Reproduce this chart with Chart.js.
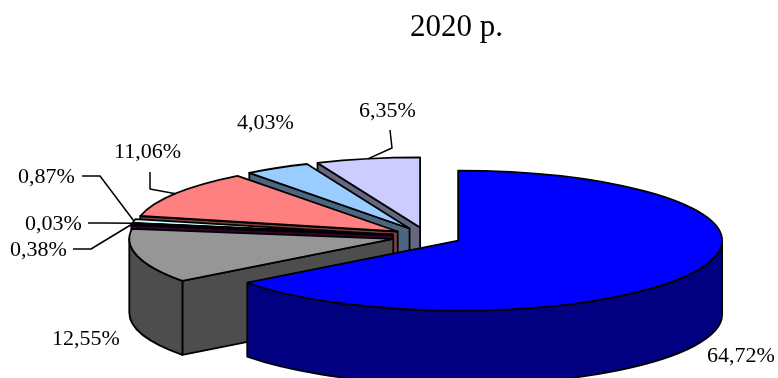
<!DOCTYPE html>
<html>
<head>
<meta charset="utf-8">
<style>
  html, body { margin: 0; padding: 0; background: #fff; }
  canvas { display: block; }
</style>
<script src="https://cdn.jsdelivr.net/npm/chart.js@4"></script>
</head>
<body>
<canvas id="myChart" width="778" height="378"></canvas>
<script>
const title = "2020 р.";
const categories = ["a", "b", "c", "d", "e", "f", "g", "h"];
const shares = [64.72, 12.55, 0.38, 0.03, 0.87, 11.06, 4.03, 6.35];
const topColors = ["#0000FF", "#969696", "#660066", "#1A1A1A", "#CCFFFF", "#FF8080", "#99CCFF", "#CCCCFF"];
const sideColors = ["#000080", "#4D4D4D", "#330033", "#0D0D0D", "#668080", "#804040", "#4D6680", "#666680"];
const paintOrder = [7, 6, 5, 4, 3, 2, 1, 0];

// label placement: text left/baseline, then leader points (last leader point is the slice rim)
const labelSpots = [
  { x: 707, y: 362, leader: [] },
  { x: 52, y: 345, leader: [] },
  { x: 10, y: 256, leader: [[73, 249], [91, 249]] },
  { x: 25, y: 230, leader: [[88, 223], [105, 223]] },
  { x: 18, y: 183, leader: [[82, 176], [100, 176]] },
  { x: 114, y: 158, leader: [[150, 172], [150, 189]] },
  { x: 237, y: 129, leader: [] },
  { x: 359, y: 117, leader: [[390, 130], [392, 148]] },
];

const pie = { cx: 427, cy: 236.5, rx: 264, ry: 70, depth: 74, explode: 34.8 };

function sliceFrame(arc, dropY) {
  const mid = (arc.startAngle + arc.endAngle) / 2;
  const k = pie.ry / pie.rx;
  return {
    x: pie.cx + Math.cos(mid) * pie.explode,
    y: pie.cy + Math.sin(mid) * pie.explode * k + dropY,
  };
}

function enterFrame(ctx, arc, dropY) {
  const f = sliceFrame(arc, dropY);
  ctx.translate(f.x, f.y);
  ctx.scale(pie.rx / arc.outerRadius, pie.ry / arc.outerRadius);
}

function strokeFace(ctx, fill) {
  if (fill) {
    ctx.fillStyle = fill;
    ctx.fill();
  }
  ctx.strokeStyle = "#000";
  ctx.lineWidth = 1.8;
  ctx.lineJoin = "round";
  ctx.stroke();
}

function drawEdgeWall(ctx, arc, angle, color) {
  const r = arc.outerRadius;
  ctx.save();
  enterFrame(ctx, arc, 0);
  ctx.beginPath();
  ctx.moveTo(0, 0);
  ctx.lineTo(Math.cos(angle) * r, Math.sin(angle) * r);
  ctx.restore();
  const a = sliceFrame(arc, 0);
  const px = a.x + Math.cos(angle) * pie.rx;
  const py = a.y + Math.sin(angle) * pie.ry;
  ctx.lineTo(px, py + pie.depth);
  ctx.lineTo(a.x, a.y + pie.depth);
  ctx.closePath();
  strokeFace(ctx, color);
}

function drawRimWall(ctx, arc, color) {
  const from = Math.max(arc.startAngle, 0);
  const to = Math.min(arc.endAngle, Math.PI);
  if (to <= from) return;
  const r = arc.outerRadius;
  ctx.save();
  ctx.beginPath();
  enterFrame(ctx, arc, 0);
  ctx.arc(0, 0, r, from, to);
  ctx.restore();
  ctx.save();
  enterFrame(ctx, arc, pie.depth);
  ctx.arc(0, 0, r, to, from, true);
  ctx.restore();
  ctx.closePath();
  strokeFace(ctx, color);
}

const pie3d = {
  id: "pie3d",
  beforeDatasetsDraw(chart) {
    const ctx = chart.ctx;
    const arcs = chart.getDatasetMeta(0).data;
    paintOrder.forEach((i) => {
      const arc = arcs[i];
      // walls that face the viewer
      if (Math.cos(arc.startAngle) < -1e-6) drawEdgeWall(ctx, arc, arc.startAngle, sideColors[i]);
      if (Math.cos(arc.endAngle) > 1e-6) drawEdgeWall(ctx, arc, arc.endAngle, sideColors[i]);
      drawRimWall(ctx, arc, sideColors[i]);

      // top face, the library's own arc squashed onto the ellipse
      ctx.save();
      enterFrame(ctx, arc, 0);
      ctx.translate(-arc.x, -arc.y);
      arc.draw(ctx);
      ctx.restore();

      ctx.save();
      ctx.beginPath();
      enterFrame(ctx, arc, 0);
      ctx.moveTo(0, 0);
      ctx.arc(0, 0, arc.outerRadius, arc.startAngle, arc.endAngle);
      ctx.closePath();
      ctx.restore();
      strokeFace(ctx, null);
    });
    return false;
  },
  afterDraw(chart) {
    const ctx = chart.ctx;
    const arcs = chart.getDatasetMeta(0).data;
    ctx.save();
    ctx.fillStyle = "#000";
    ctx.textBaseline = "alphabetic";
    ctx.textAlign = "left";
    ctx.font = '31px "Liberation Serif"';
    ctx.fillText(title, 410, 36);
    ctx.font = '22px "Liberation Serif"';
    shares.forEach((v, i) => {
      const spot = labelSpots[i];
      ctx.fillText(v.toFixed(2).replace(".", ",") + "%", spot.x, spot.y);
      if (!spot.leader.length) return;
      const f = sliceFrame(arcs[i], 0);
      const mid = (arcs[i].startAngle + arcs[i].endAngle) / 2;
      ctx.beginPath();
      spot.leader.forEach((p, n) => (n ? ctx.lineTo(p[0], p[1]) : ctx.moveTo(p[0], p[1])));
      ctx.lineTo(f.x + Math.cos(mid) * pie.rx, f.y + Math.sin(mid) * pie.ry);
      ctx.strokeStyle = "#000";
      ctx.lineWidth = 1.5;
      ctx.stroke();
    });
    ctx.restore();
  },
};

new Chart(document.getElementById("myChart"), {
  type: "pie",
  data: {
    labels: categories,
    datasets: [{ data: shares, backgroundColor: topColors, borderWidth: 0, hoverOffset: 0 }],
  },
  options: {
    responsive: false,
    animation: false,
    events: [],
    plugins: { legend: { display: false }, tooltip: { enabled: false } },
  },
  plugins: [pie3d],
});
</script>
</body>
</html>
